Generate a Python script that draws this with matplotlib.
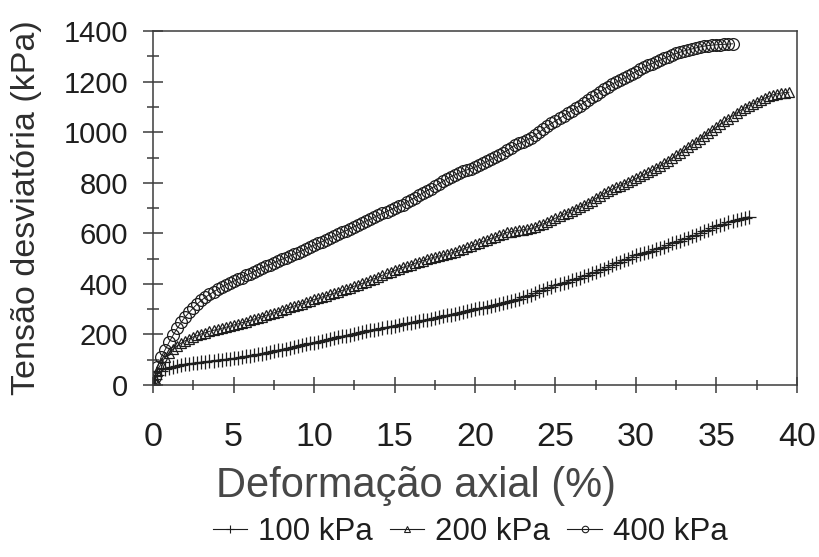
import matplotlib
matplotlib.use("Agg")
import matplotlib.pyplot as plt
from matplotlib.lines import Line2D
from matplotlib.ticker import MultipleLocator

plt.rcParams['font.family'] = ['Liberation Sans', 'DejaVu Sans']

# Ensaio triaxial: deformacao axial (%) lida a cada 0,25 %
eps = [0, 0.1,
       0.25, 0.5, 0.75, 1.0, 1.25, 1.5, 1.75, 2.0, 2.25, 2.5, 2.75, 3.0,
       3.25, 3.5, 3.75, 4.0, 4.25, 4.5, 4.75, 5.0, 5.25, 5.5, 5.75, 6.0,
       6.25, 6.5, 6.75, 7.0, 7.25, 7.5, 7.75, 8.0, 8.25, 8.5, 8.75, 9.0,
       9.25, 9.5, 9.75, 10.0, 10.25, 10.5, 10.75, 11.0, 11.25, 11.5, 11.75, 12.0,
       12.25, 12.5, 12.75, 13.0, 13.25, 13.5, 13.75, 14.0, 14.25, 14.5, 14.75, 15.0,
       15.25, 15.5, 15.75, 16.0, 16.25, 16.5, 16.75, 17.0, 17.25, 17.5, 17.75, 18.0,
       18.25, 18.5, 18.75, 19.0, 19.25, 19.5, 19.75, 20.0, 20.25, 20.5, 20.75, 21.0,
       21.25, 21.5, 21.75, 22.0, 22.25, 22.5, 22.75, 23.0, 23.25, 23.5, 23.75, 24.0,
       24.25, 24.5, 24.75, 25.0, 25.25, 25.5, 25.75, 26.0, 26.25, 26.5, 26.75, 27.0,
       27.25, 27.5, 27.75, 28.0, 28.25, 28.5, 28.75, 29.0, 29.25, 29.5, 29.75, 30.0,
       30.25, 30.5, 30.75, 31.0, 31.25, 31.5, 31.75, 32.0, 32.25, 32.5, 32.75, 33.0,
       33.25, 33.5, 33.75, 34.0, 34.25, 34.5, 34.75, 35.0, 35.25, 35.5, 35.75, 36.0,
       36.25, 36.5, 36.75, 37.0, 37.25, 37.5, 37.75, 38.0, 38.25, 38.5, 38.75, 39.0,
       39.25, 39.5]

# tensao desviatoria (kPa) para cada tensao confinante
q_100 = [0, 22,
         40, 55, 62, 68, 72, 76, 79, 82, 84, 86, 88, 90,
         92, 94, 96, 98, 99, 101, 103, 105, 107, 110, 113, 116,
         118, 121, 124, 127, 130, 133, 137, 140, 143, 146, 150, 153,
         157, 160, 164, 167, 171, 174, 178, 181, 185, 188, 192, 195,
         199, 202, 206, 210, 213, 216, 219, 222, 225, 228, 231, 234,
         237, 240, 243, 246, 249, 252, 255, 258, 261, 264, 268, 271,
         275, 278, 282, 285, 289, 292, 296, 299, 303, 306, 310, 313,
         317, 320, 324, 328, 332, 336, 341, 346, 351, 357, 363, 370,
         377, 383, 389, 394, 399, 404, 409, 414, 419, 424, 430, 435,
         441, 447, 453, 460, 467, 474, 481, 487, 494, 500, 507, 513,
         518, 522, 527, 531, 536, 541, 547, 553, 560, 566, 571, 576,
         582, 588, 595, 601, 608, 614, 621, 627, 633, 638, 644, 649,
         654, 658, 662, 665]

q_200 = [0, 25,
         55, 85, 110, 128, 142, 155, 166, 175, 183, 190, 196, 202,
         207, 212, 216, 220, 224, 228, 232, 237, 241, 246, 250, 255,
         260, 265, 270, 275, 280, 285, 290, 296, 301, 307, 312, 317,
         322, 328, 333, 338, 343, 348, 353, 358, 363, 369, 374, 380,
         385, 391, 396, 402, 408, 415, 421, 428, 434, 441, 447, 453,
         459, 465, 470, 475, 481, 487, 492, 497, 502, 506, 510, 514,
         518, 522, 527, 532, 538, 544, 550, 556, 562, 568, 574, 580,
         586, 592, 598, 604, 607, 610, 612, 614, 617, 620, 626, 632,
         638, 645, 652, 660, 667, 675, 682, 690, 697, 705, 712, 720,
         729, 738, 748, 758, 766, 774, 782, 789, 796, 803, 810, 817,
         825, 833, 841, 850, 859, 868, 877, 887, 897, 908, 919, 930,
         941, 952, 963, 975, 986, 998, 1009, 1020, 1032, 1043, 1054, 1065,
         1076, 1087, 1096, 1105, 1113, 1120, 1128, 1135, 1142, 1148, 1152, 1155,
         1157, 1158]

q_400 = [0, 30,
         70, 110, 140, 170, 198, 225, 248, 270, 288, 305, 321, 335,
         347, 358, 368, 378, 387, 395, 403, 410, 418, 425, 433, 440,
         448, 455, 463, 470, 476, 483, 490, 497, 503, 510, 517, 524,
         531, 538, 546, 553, 560, 567, 574, 581, 589, 596, 604, 611,
         619, 626, 634, 641, 649, 656, 664, 672, 679, 686, 693, 700,
         707, 714, 723, 732, 741, 750, 759, 768, 777, 786, 796, 806,
         815, 824, 831, 838, 845, 851, 856, 862, 869, 877, 885, 893,
         901, 910, 919, 928, 939, 950, 956, 962, 970, 978, 989, 1000,
         1013, 1025, 1035, 1045, 1055, 1065, 1075, 1085, 1095, 1105, 1117, 1128,
         1138, 1148, 1159, 1170, 1180, 1190, 1198, 1205, 1213, 1222, 1231, 1240,
         1249, 1258, 1265, 1272, 1279, 1285, 1292, 1299, 1306, 1312, 1317, 1322,
         1326, 1330, 1334, 1338, 1341, 1343, 1345, 1346, 1347, 1348, 1349, 1350]

labels = ["100 kPa", "200 kPa", "400 kPa"]
markers = ["+", "^", "o"]
sizes = [9.5, 7.5, 8.5]

ink = "#1e1e1e"
axis_color = "#3c3c3c"

fig = plt.figure(figsize=(8.19, 5.57), dpi=100)
ax = fig.add_axes([0.187, 0.309, 0.786, 0.635])

for q, m, ms in zip([q_100, q_200, q_400], markers, sizes):
    ax.plot(eps[:len(q)], q, color=ink, lw=0.7, marker=m, ms=ms,
            mfc="none", mec=ink, mew=0.9)

ax.set_xlim(0, 40)
ax.set_ylim(0, 1400)
ax.xaxis.set_major_locator(MultipleLocator(5))
ax.xaxis.set_minor_locator(MultipleLocator(2.5))
ax.yaxis.set_major_locator(MultipleLocator(200))
ax.yaxis.set_minor_locator(MultipleLocator(100))

for side in ax.spines:
    ax.spines[side].set_color(axis_color)
    ax.spines[side].set_linewidth(1.1)

ax.tick_params(axis="y", which="major", direction="inout", length=14,
               width=1.1, color=axis_color, labelsize=21, labelcolor=ink, pad=11)
ax.tick_params(axis="y", which="minor", direction="inout", length=9,
               width=1.1, color=axis_color)
ax.tick_params(axis="x", which="major", direction="inout", length=12,
               width=1.1, color=axis_color, labelsize=24.5, labelcolor=ink, pad=21)
ax.tick_params(axis="x", which="minor", direction="inout", length=7,
               width=1.1, color=axis_color)

ax.set_xlabel("Deformação axial (%)", fontsize=30, color="#474747")
ax.xaxis.set_label_coords(0.408, -0.228)
ax.set_ylabel("Tensão desviatória (kPa)", fontsize=24.5, color="#2e2e2e")
ax.yaxis.set_label_coords(-0.172, 0.5)

handles = [Line2D([], [], color=ink, lw=0.8, marker=m, ms=s * 0.55,
                  mfc="none", mec=ink, mew=0.8)
           for m, s in zip(markers, sizes)]
fig.legend(handles, labels, loc="center",
           bbox_to_anchor=(0.574, 0.045), ncol=3, frameon=False,
           fontsize=22.5, handlelength=1.1, handletextpad=0.35,
           columnspacing=0.55, labelcolor=ink)

fig.savefig("out.png", dpi=100)
